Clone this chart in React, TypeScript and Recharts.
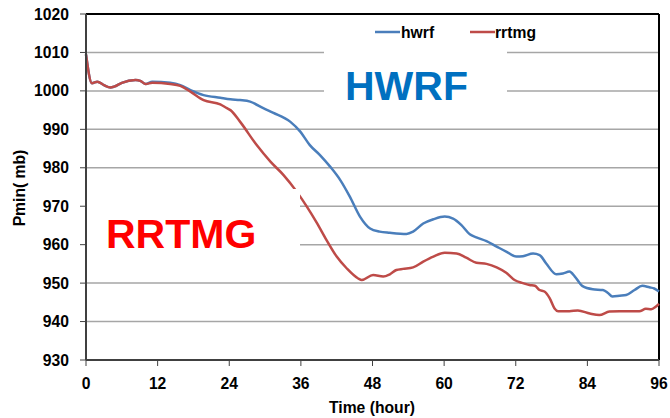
import React from "react";
import {
  LineChart,
  Line,
  XAxis,
  YAxis,
  CartesianGrid,
  ReferenceLine,
} from "recharts";

// forecast hour / minimum pressure (mb)
const hwrfHours = [
  0, 1, 1.9, 3, 4.1, 4.7, 6, 8.3, 9.1, 10, 11.1, 14.1, 15.8, 17.5, 19.7, 22.5,
  24.2, 25.8, 27.5, 29.7, 31.4, 34.2, 35.9, 37.5, 39.2, 40.9, 42.6, 44.2, 45.9,
  47.6, 49.2, 50.9, 53.7, 54.8, 56.5, 58.2, 60.1, 61.5, 62.9, 64.3, 65.4, 67.1,
  68.8, 70.4, 72.1, 73.2, 74.9, 76, 77.1, 78.8, 79.9, 81, 81.9, 83.2, 84.9,
  86.6, 87.4, 88.2, 89.4, 90.5, 91.9, 93.2, 94.4, 95.2, 96,
];
const hwrfPmin = [
  1009.5, 1002.0, 1002.4, 1001.5, 1000.9, 1001.1, 1002.1, 1002.8, 1002.6,
  1001.8, 1002.4, 1002.1, 1001.5, 1000.2, 998.9, 998.2, 997.8, 997.6, 997.2,
  995.5, 994.3, 992.0, 989.4, 985.9, 983.3, 980.3, 976.8, 972.5, 967.3, 964.2,
  963.4, 963.1, 962.8, 963.4, 965.5, 966.6, 967.3, 966.8, 965.1, 962.7, 961.9,
  960.9, 959.5, 958.2, 956.9, 957.0, 957.7, 957.3, 955.1, 952.3, 952.5, 953.0,
  951.7, 949.2, 948.4, 948.2, 947.5, 946.5, 946.7, 946.9, 948.2, 949.3, 948.9,
  948.6, 947.8,
];

const rrtmgHours = [
  0, 1, 1.9, 3, 4.1, 4.7, 6, 8.3, 9.1, 10, 11.1, 14.1, 15.8, 17.5, 19.7, 22.5,
  23.6, 24.2, 25.8, 28.6, 30.9, 33.1, 35.3, 37, 38.7, 40.3, 42, 43.7, 45.6,
  46.2, 48.1, 49.8, 50.9, 52, 53.1, 54.8, 56.5, 58.2, 60.1, 62.1, 63.7, 65.4,
  67.1, 68.8, 70.4, 71.8, 73.2, 74.3, 75.2, 76, 76.8, 77.7, 78.5, 79.1, 81,
  82.4, 84.4, 86, 87.7, 89.4, 92.7, 93.8, 94.7, 95.5, 96,
];
const rrtmgPmin = [
  1009.5, 1002.0, 1002.4, 1001.5, 1000.9, 1001.1, 1002.1, 1002.8, 1002.6,
  1001.8, 1002.1, 1001.8, 1001.3, 999.8, 997.6, 996.5, 995.5, 995.0, 992.0,
  985.9, 981.6, 978.1, 973.8, 969.9, 965.6, 961.2, 956.9, 953.8, 951.2, 950.8,
  952.1, 951.7, 952.3, 953.4, 953.7, 954.1, 955.6, 956.9, 957.9, 957.7, 956.6,
  955.3, 955.0, 954.1, 952.7, 950.8, 950.0, 949.5, 949.3, 948.2, 947.8, 946.0,
  943.4, 942.7, 942.7, 942.9, 942.1, 941.7, 942.6, 942.7, 942.7, 943.3, 943.2,
  943.9, 944.6,
];

const xTicks = [0, 12, 24, 36, 48, 60, 72, 84, 96];
const yTicks = [930, 940, 950, 960, 970, 980, 990, 1000, 1010, 1020];

const series = [
  { name: "hwrf", color: "#4A7EBB", hours: hwrfHours, values: hwrfPmin },
  { name: "rrtmg", color: "#BE4B48", hours: rrtmgHours, values: rrtmgPmin },
];

const FONT = "'Liberation Sans', Arial, sans-serif";
const tickStyle = { fontFamily: FONT, fontSize: 15.7, fontWeight: 700, fill: "#000" };

export default function App() {
  const lines = series.map((s) => ({
    ...s,
    data: s.hours.map((t, i) => ({ time: t, pmin: s.values[i] })),
  }));

  return (
    <div style={{ position: "absolute", left: 0, top: 0, width: 670, height: 418, background: "#fff" }}>
      <LineChart
        width={670}
        height={418}
        margin={{ top: 14, right: 11, left: 0, bottom: 28 }}
      >
        <CartesianGrid vertical={false} stroke="#a6a6a6" strokeWidth={1.5} />
        <XAxis
          type="number"
          dataKey="time"
          domain={[0, 96]}
          ticks={xTicks}
          height={30}
          tickSize={6}
          tickMargin={12}
          tick={tickStyle}
          axisLine={{ stroke: "#404040", strokeWidth: 2 }}
          tickLine={{ stroke: "#404040" }}
          allowDuplicatedCategory={false}
        />
        <YAxis
          type="number"
          dataKey="pmin"
          domain={[930, 1020]}
          ticks={yTicks}
          width={86}
          tickSize={6}
          tickMargin={11}
          tick={tickStyle}
          axisLine={{ stroke: "#404040", strokeWidth: 2 }}
          tickLine={{ stroke: "#404040" }}
        />
        <ReferenceLine y={1020} stroke="#000" strokeWidth={2} />
        <ReferenceLine x={96} stroke="#000" strokeWidth={2} />
        {lines.map((s) => (
          <Line
            key={s.name}
            data={s.data}
            dataKey="pmin"
            name={s.name}
            type="monotone"
            stroke={s.color}
            strokeWidth={2.5}
            dot={false}
            isAnimationActive={false}
          />
        ))}
      </LineChart>

      {/* text boxes, legend and axis titles sit on top of the plot like in the original */}
      <svg
        width={670}
        height={418}
        style={{ position: "absolute", left: 0, top: 0, pointerEvents: "none" }}
        fontFamily={FONT}
        fontWeight={700}
      >
        <rect x={324} y={16} width={183} height={95} fill="#fff" />
        <rect x={87} y={189} width={213} height={76} fill="#fff" />

        {lines.map((s, i) => (
          <g key={s.name}>
            <line x1={375 + i * 95} x2={400 + i * 95} y1={32} y2={32} stroke={s.color} strokeWidth={2.5} />
            <text x={401 + i * 94} y={38} fontSize={15.7} fill="#000">
              {s.name}
            </text>
          </g>
        ))}

        <text x={345} y={100} fontSize={41} fill="#0070C0">HWRF</text>
        <text x={106} y={248} fontSize={41} fill="#FF0000">RRTMG</text>

        <text x={372} y={413} fontSize={15.7} textAnchor="middle" fill="#000">
          Time (hour)
        </text>
        <text
          x={25}
          y={188}
          fontSize={15.7}
          textAnchor="middle"
          fill="#000"
          transform="rotate(-90, 25, 188)"
        >
          Pmin( mb)
        </text>
      </svg>
    </div>
  );
}
